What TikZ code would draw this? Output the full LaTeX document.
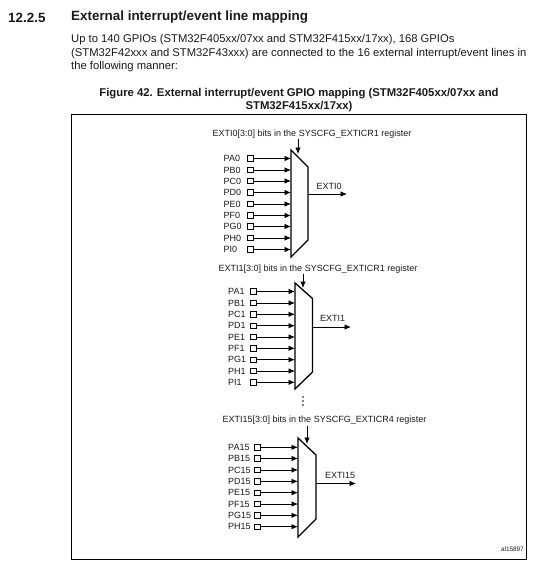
\documentclass[tikz,border=0pt]{standalone}
\usepackage{fontspec}
\setmainfont{Liberation Sans}
\usetikzlibrary{arrows.meta}
\definecolor{inkc}{HTML}{1A1A1A}
\tikzset{
  x=1pt,y=-1pt,
  lab/.style={inner sep=0pt,text=inkc,font=\fontsize{9}{10}\selectfont},
  inlab/.style={lab,anchor=west},
  pin/.style={draw=black,line width=.9pt,minimum width=6pt,minimum height=5.5pt,inner sep=0pt},
  wire/.style={line width=.85pt,-{Latex[length=6.5pt,width=5.5pt]}},
  mux/.style={line width=1.3pt,line join=miter},
  body/.style={inner sep=0pt,anchor=west,text=inkc,font=\fontsize{11.25}{12}\selectfont},
  bighead/.style={body,font=\fontsize{13.4}{14}\bfseries},
  capt/.style={inner sep=0pt,text=inkc,font=\fontsize{11.3}{12}\bfseries},
  dotn/.style={circle,fill=black!85!blue,inner sep=0pt,minimum size=1.8pt},
}
\begin{document}
\begin{tikzpicture}
\useasboundingbox (0,0) rectangle (542,568);
\node[bighead] (num) at (8,17.5) {12.2.5};
\node[bighead] (head) at (71,17.5) {External interrupt/event line mapping};
\node[body] (p1) at (71,40) {Up to 140 GPIOs (STM32F405xx/07xx and STM32F415xx/17xx), 168 GPIOs};
\node[body] (p2) at (71,53.5) {(STM32F42xxx and STM32F43xxx) are connected to the 16 external interrupt/event lines in};
\node[body] (p3) at (71,67) {the following manner:};
\node[capt] (cap1) at (299,93.5) {Figure 42. External interrupt/event GPIO mapping (STM32F405xx/07xx and};
\node[capt] (cap2) at (299,107) {STM32F415xx/17xx)};
\node[draw=black,line width=1pt,inner sep=0pt,minimum width=455pt,minimum height=445pt,anchor=north west] (frame) at (71,114) {};
\node[lab,anchor=east,font=\fontsize{6.4}{7}\selectfont] (al) at (524,549) {al15897};

% --- mux 0
\coordinate (m0a) at (291,150); \coordinate (m0b) at (308,167);
\coordinate (m0c) at (308,240); \coordinate (m0d) at (291,257);
\draw[mux] (m0a) -- (m0b) -- (m0c) -- (m0d) -- cycle;
\node[lab] (t0) at (312,134) {EXTI0[3:0] bits in the SYSCFG\_EXTICR1 register};
\coordinate (t0a) at (298,139); \coordinate (t0b) at (298,154);
\draw[wire] (t0a) -- (t0b);
\foreach \n/\y in {A/158.5,B/170,C/181,D/192.5,E/204,F/215.5,G/226.5,H/238,I/249.5}{
  \node[inlab] (l0\n) at (223.5,\y) {P\n0};
  \node[pin] (s0\n) at (250,\y) {};
  \coordinate (e0\n) at (291,\y);
  \draw[wire] (s0\n) -- (e0\n);
}
\coordinate (o0s) at (308,194); \coordinate (o0e) at (347,194);
\draw[wire] (o0s) -- (o0e);
\node[inlab] (x0) at (316.5,186) {EXTI0};

% --- mux 1
\coordinate (m1a) at (295,283); \coordinate (m1b) at (312.5,298.5);
\coordinate (m1c) at (312.5,372); \coordinate (m1d) at (295,389);
\draw[mux] (m1a) -- (m1b) -- (m1c) -- (m1d) -- cycle;
\node[lab] (t1) at (318,269) {EXTI1[3:0] bits in the SYSCFG\_EXTICR1 register};
\coordinate (t1a) at (303,273.5); \coordinate (t1b) at (303,288);
\draw[wire] (t1a) -- (t1b);
\foreach \n/\y in {A/291.5,B/303,C/314.3,D/325.7,E/337,F/348.3,G/359.7,H/371,I/382.3}{
  \node[inlab] (l1\n) at (228,\y) {P\n1};
  \node[pin] (s1\n) at (253.3,\y) {};
  \coordinate (e1\n) at (295,\y);
  \draw[wire] (s1\n) -- (e1\n);
}
\coordinate (o1s) at (312.5,327); \coordinate (o1e) at (351,327);
\draw[wire] (o1s) -- (o1e);
\node[inlab] (x1) at (320,318.5) {EXTI1};

% --- dots
\node[dotn] (d1) at (303,397) {};
\node[dotn] (d2) at (303,401) {};
\node[dotn] (d3) at (303,405) {};

% --- mux 15
\coordinate (m2a) at (298,438); \coordinate (m2b) at (316,455);
\coordinate (m2c) at (316,519); \coordinate (m2d) at (298,537);
\draw[mux] (m2a) -- (m2b) -- (m2c) -- (m2d) -- cycle;
\node[lab] (t2) at (324.5,420.5) {EXTI15[3:0] bits in the SYSCFG\_EXTICR4 register};
\coordinate (t2a) at (307,426); \coordinate (t2b) at (307,444);
\draw[wire] (t2a) -- (t2b);
\foreach \n/\y in {A/447.3,B/458.5,C/470,D/481.3,E/492.7,F/504,G/515.3,H/526.7}{
  \node[inlab] (l2\n) at (228,\y) {P\n15};
  \node[pin] (s2\n) at (257.5,\y) {};
  \coordinate (e2\n) at (298,\y);
  \draw[wire] (s2\n) -- (e2\n);
}
\coordinate (o2s) at (316,483.5); \coordinate (o2e) at (356,483.5);
\draw[wire] (o2s) -- (o2e);
\node[inlab] (x2) at (325,475.5) {EXTI15};
\end{tikzpicture}
\end{document}
